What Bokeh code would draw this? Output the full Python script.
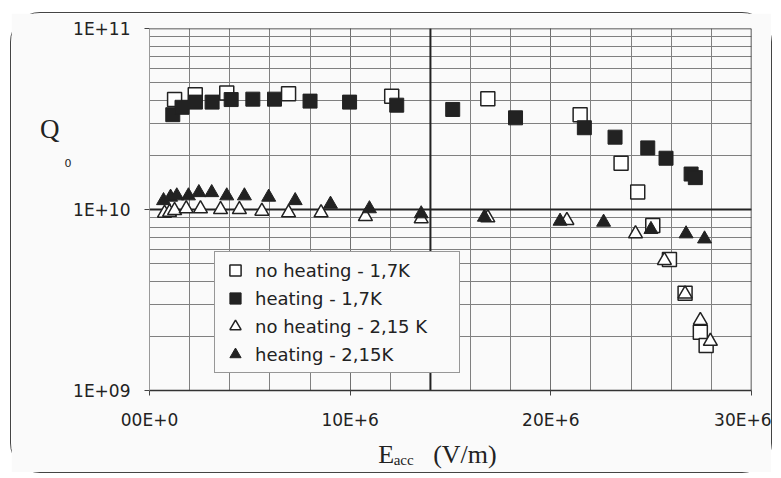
from bokeh.plotting import figure
from bokeh.models import (Range1d, FixedTicker, CustomJSTickFormatter, Legend, LegendItem,
                          Span, LinearAxis, LogAxis)
from bokeh.embed import file_html
from bokeh.resources import INLINE

# ---------------- data (E in MV/m, Q0) ----------------
e_nh17 = [1.25, 2.28, 3.85, 6.93, 12.07, 16.86, 21.46, 23.5, 24.33, 25.08, 25.91, 26.69, 27.45, 27.74]
q_nh17 = [4.05e10, 4.3e10, 4.4e10, 4.36e10, 4.23e10, 4.09e10, 3.34e10, 1.80e10, 1.25e10, 8.17e9, 5.3e9, 3.45e9, 2.10e9, 1.77e9]

e_h17 = [1.16, 1.62, 2.29, 3.12, 4.07, 5.15, 6.23, 8.0, 9.97, 12.32, 15.11, 18.24, 21.67, 23.2, 24.83, 25.74, 26.99, 27.2]
q_h17 = [3.34e10, 3.67e10, 3.92e10, 3.92e10, 4.05e10, 4.07e10, 4.07e10, 3.97e10, 3.92e10, 3.77e10, 3.57e10, 3.21e10, 2.83e10, 2.51e10, 2.19e10, 1.92e10, 1.57e10, 1.50e10]

e_nh215 = [0.75, 1.0, 1.25, 1.83, 2.54, 3.54, 4.48, 5.6, 6.93, 8.55, 10.76, 13.54, 16.86, 20.8, 24.22, 25.66, 26.69, 27.45, 27.95]
q_nh215 = [9.55e9, 9.65e9, 9.87e9, 1.01e10, 1.01e10, 1.0e10, 1.0e10, 9.8e9, 9.6e9, 9.6e9, 9.15e9, 8.89e9, 9.0e9, 8.7e9, 7.34e9, 5.23e9, 3.42e9, 2.44e9, 1.87e9]

e_h215 = [0.7, 1.05, 1.36, 1.94, 2.46, 3.1, 3.85, 4.73, 5.94, 7.26, 9.02, 10.96, 13.54, 16.69, 20.46, 22.63, 24.99, 26.74, 27.66]
q_h215 = [1.12e10, 1.17e10, 1.19e10, 1.19e10, 1.24e10, 1.24e10, 1.19e10, 1.19e10, 1.17e10, 1.12e10, 1.07e10, 1.01e10, 9.47e9, 9.07e9, 8.62e9, 8.51e9, 7.76e9, 7.34e9, 6.88e9]

labels = ["no heating - 1,7K", "heating - 1,7K", "no heating - 2,15 K", "heating - 2,15K"]
x_ticks = [0, 10e6, 20e6, 30e6]
y_ticks = [1e9, 1e10, 1e11]

BG = "#fafafa"
INK = "#222222"
NB = "\u00a0"

p = figure(width=762, height=461, x_axis_type="linear", y_axis_type="log",
           x_range=Range1d(0, 30e6), y_range=Range1d(1e9, 1e11),
           output_backend="svg", toolbar_location=None,
           min_border_left=138, min_border_right=22, min_border_top=15, min_border_bottom=84)
p.background_fill_color = BG
p.border_fill_color = BG
p.outline_line_color = None
p.styles = {"margin": "12px 0 0 10px", "border": "1.5px solid #444", "border-radius": "30px"}

# axes / ticks
p.xaxis.ticker = FixedTicker(ticks=x_ticks, minor_ticks=[i * 2e6 for i in range(16)])
p.yaxis.ticker = FixedTicker(ticks=y_ticks,
                             minor_ticks=[k * 10 ** d for d in (9, 10) for k in range(2, 10)])
p.xaxis.formatter = CustomJSTickFormatter(
    code="return tick == 0 ? '00E+0' : (tick/1e6).toFixed(0) + 'E+6';")
p.yaxis.formatter = CustomJSTickFormatter(
    code="const e = Math.round(Math.log10(tick)); return '1E+' + (e < 10 ? '0' + e : e);")
for ax in (p.xaxis, p.yaxis):
    ax.major_label_text_font = "DejaVu Sans"
    ax.major_label_text_font_size = "17px"
    ax.major_label_text_color = INK
    ax.major_tick_out = 5
    ax.major_tick_in = 0
    ax.major_tick_line_color = "#444"
    ax.minor_tick_line_color = None
p.xaxis.axis_line_color = "#333"
p.xaxis.axis_line_width = 1.5
p.xaxis.major_label_standoff = 14
p.yaxis.axis_line_color = "#999"
p.yaxis.major_label_standoff = 14


# label-only axes carrying the axis titles
def title_axis(kind, side, label, font, size, standoff, line_height=1.2, orient=None):
    ax = kind(ticker=FixedTicker(ticks=[]), axis_label=label,
              axis_label_text_font=font, axis_label_text_font_size=size,
              axis_label_text_font_style="normal", axis_label_text_color=INK,
              axis_label_text_line_height=line_height,
              axis_label_standoff=standoff, axis_line_color=None,
              major_tick_line_color=None, minor_tick_line_color=None,
              major_tick_out=0, major_tick_in=0, major_label_standoff=0,
              major_label_text_font_size="0px")
    if orient is not None:
        ax.axis_label_orientation = orient
    p.add_layout(ax, side)


title_axis(LogAxis, "left", "0" + ("\n" + NB) * 7, "DejaVu Sans", "11px", -1, 1.01, "horizontal")
title_axis(LogAxis, "left", "Q" + ("\n" + NB) * 5, "Liberation Serif", "27px", 2, 1.08, "horizontal")
title_axis(LinearAxis, "below", "E" + NB * 6 + "(V/m)" + NB * 4, "Liberation Serif", "26px", 7)
title_axis(LinearAxis, "below", "acc" + NB * 25, "Liberation Serif", "15px", -20)

# grid
p.xgrid.grid_line_color = "#707070"
p.xgrid.minor_grid_line_color = "#808080"
p.xgrid.grid_line_width = 1
p.ygrid.grid_line_color = "#555"
p.ygrid.minor_grid_line_color = "#808080"

# frame edges + heavy lines from the scan
for loc, dim, w in [(1e11, "width", 1.5), (1e10, "width", 2), (30e6, "height", 1.5), (14e6, "height", 2)]:
    p.add_layout(Span(location=loc, dimension=dim, line_color=INK, line_width=w, level="underlay"))

# series
r1 = p.scatter([v * 1e6 for v in e_nh17], q_nh17, marker="square", size=14,
               fill_color="white", line_color=INK, line_width=1.5)
r2 = p.scatter([v * 1e6 for v in e_h17], q_h17, marker="square", size=14,
               fill_color=INK, line_color=INK, line_width=1)
r3 = p.scatter([v * 1e6 for v in e_nh215], q_nh215, marker="triangle", size=14,
               fill_color="white", line_color=INK, line_width=1.5)
r4 = p.scatter([v * 1e6 for v in e_h215], q_h215, marker="triangle", size=14,
               fill_color=INK, line_color=INK, line_width=1)

legend = Legend(items=[LegendItem(label=labels[i], renderers=[r]) for i, r in enumerate([r1, r2, r3, r4])],
                location=(65, 17))
legend.label_text_font = "DejaVu Sans"
legend.label_text_font_size = "18px"
legend.label_text_color = INK
legend.glyph_width = 32
legend.glyph_height = 28
legend.label_height = 28
legend.label_standoff = 4
legend.label_width = 200
legend.spacing = 0
legend.padding = 4
legend.margin = 0
legend.border_line_color = "#333"
legend.border_line_width = 1.5
legend.background_fill_color = BG
legend.background_fill_alpha = 1
p.add_layout(legend, "center")

open("out.html", "w").write(file_html(p, INLINE))
